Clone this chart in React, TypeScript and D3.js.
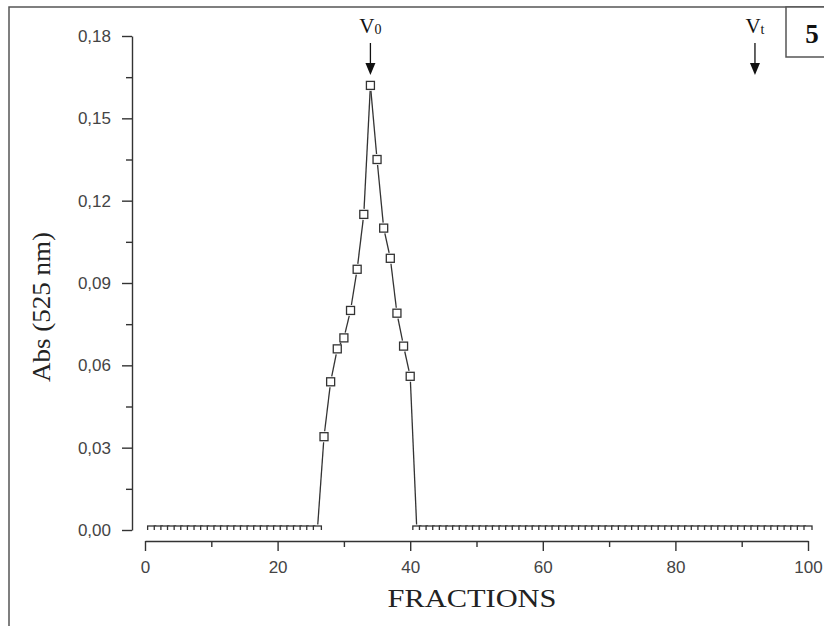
import React, { useEffect, useRef } from 'react';
import * as d3 from 'd3';

// absorbance at 525 nm for fractions 1..100
const absorbance = [
  0, 0, 0, 0, 0, 0, 0, 0, 0, 0,
  0, 0, 0, 0, 0, 0, 0, 0, 0, 0,
  0, 0, 0, 0, 0, 0,
  0.034, 0.054, 0.066, 0.070, 0.080, 0.095, 0.115, 0.162, 0.135, 0.110, 0.099, 0.079, 0.067, 0.056,
  0, 0, 0, 0, 0, 0, 0, 0, 0, 0,
  0, 0, 0, 0, 0, 0, 0, 0, 0, 0,
  0, 0, 0, 0, 0, 0, 0, 0, 0, 0,
  0, 0, 0, 0, 0, 0, 0, 0, 0, 0,
  0, 0, 0, 0, 0, 0, 0, 0, 0, 0,
  0, 0, 0, 0, 0, 0, 0, 0, 0, 0,
];
const yTicks = [0, 0.03, 0.06, 0.09, 0.12, 0.15, 0.18];
const yMinorTicks = [0.015, 0.045, 0.075, 0.105, 0.135, 0.165];
const xTicks = [0, 20, 40, 60, 80, 100];
const xMinorTicks = [10, 30, 50, 70, 90];
const volumeMarks = [
  { name: 'V', sub: '0', fraction: 34 },
  { name: 'V', sub: 't', fraction: 92 },
];

const INK = '#333';

const draw = (node: SVGSVGElement) => {
  const svg = d3.select(node);
  svg.selectAll('*').remove();

  const x = d3.scaleLinear().domain([0, 100]).range([145, 808]);
  const y = d3.scaleLinear().domain([0, 0.18]).range([530, 36]);
  const fmt = (d: number) => d.toFixed(2).replace('.', ',');

  // outer frame
  svg.append('rect').attr('x', 9).attr('y', 7).attr('width', 840).attr('height', 640)
    .attr('fill', 'none').attr('stroke', '#555').attr('stroke-width', 1.5);

  // panel number box
  svg.append('rect').attr('x', 786).attr('y', 7).attr('width', 60).attr('height', 50)
    .attr('fill', 'white').attr('stroke', '#555').attr('stroke-width', 1.5);
  svg.append('text').attr('x', 812).attr('y', 43).attr('text-anchor', 'middle')
    .attr('font-family', 'Liberation Serif').attr('font-weight', 'bold').attr('font-size', 27)
    .attr('fill', '#111').text('5');

  // y axis
  const yAxis = svg.append('g').attr('transform', 'translate(132,0)')
    .call(d3.axisLeft(y).tickValues(yTicks).tickFormat(fmt as any).tickSize(10).tickSizeOuter(0).tickPadding(11));
  svg.append('g').attr('transform', 'translate(132,0)')
    .call(d3.axisLeft(y).tickValues(yMinorTicks).tickFormat(() => '').tickSize(6).tickSizeOuter(0))
    .select('.domain').remove();

  // x axis, offset below the baseline
  const xAxis = svg.append('g').attr('transform', 'translate(0,541)')
    .call(d3.axisBottom(x).tickValues(xTicks).tickFormat(d3.format('d') as any).tickSize(10).tickSizeOuter(0).tickPadding(10));
  svg.append('g').attr('transform', 'translate(0,541)')
    .call(d3.axisBottom(x).tickValues(xMinorTicks).tickFormat(() => '').tickSize(6).tickSizeOuter(0))
    .select('.domain').remove();

  svg.selectAll('.domain, .tick line').attr('stroke', INK).attr('stroke-width', 1.4);
  [yAxis, xAxis].forEach(g => g.selectAll('text')
    .attr('font-family', 'Liberation Sans').attr('font-size', 17).attr('fill', '#444'));

  // axis titles
  svg.append('text').attr('transform', 'translate(50,307) rotate(-90)')
    .attr('text-anchor', 'middle').attr('font-family', 'Liberation Serif').attr('font-size', 26)
    .attr('fill', '#222').attr('textLength', 150).attr('lengthAdjust', 'spacingAndGlyphs')
    .text('Abs (525 nm)');
  svg.append('text').attr('x', 472).attr('y', 607)
    .attr('text-anchor', 'middle').attr('font-family', 'Liberation Serif').attr('font-size', 26)
    .attr('fill', '#222').attr('textLength', 169).attr('lengthAdjust', 'spacingAndGlyphs')
    .text('FRACTIONS');

  // plot area clip (markers at zero are cut at the baseline)
  svg.append('clipPath').attr('id', 'plot-clip')
    .append('rect').attr('x', 132).attr('y', 20).attr('width', 690).attr('height', 510);
  const plot = svg.append('g').attr('clip-path', 'url(#plot-clip)');

  const pts = absorbance.map((v, i) => ({ px: x(i + 1), py: y(v) }));
  const gap = 5.5;
  pts.slice(1).forEach((p, i) => {
    const a = pts[i];
    const dx = p.px - a.px, dy = p.py - a.py;
    const len = Math.hypot(dx, dy);
    if (len <= gap * 2 + 1) return;
    const ux = dx / len, uy = dy / len;
    plot.append('line')
      .attr('x1', a.px + ux * gap).attr('y1', a.py + uy * gap)
      .attr('x2', p.px - ux * gap).attr('y2', p.py - uy * gap)
      .attr('stroke', INK).attr('stroke-width', 1.3);
  });

  const size = 8;
  plot.selectAll('rect.pt').data(pts).join('rect').attr('class', 'pt')
    .attr('x', d => d.px - size / 2).attr('y', d => d.py - size / 2)
    .attr('width', size).attr('height', size)
    .attr('fill', 'white').attr('stroke', INK).attr('stroke-width', 1.3);

  // V0 / Vt arrows
  volumeMarks.forEach(m => {
    const cx = x(m.fraction);
    const g = svg.append('g');
    const t = g.append('text').attr('x', cx).attr('y', 33).attr('text-anchor', 'middle')
      .attr('font-family', 'Liberation Serif').attr('font-size', 21).attr('fill', '#111');
    t.append('tspan').text(m.name);
    t.append('tspan').attr('font-size', 14).attr('dy', 1).text(m.sub);
    g.append('line').attr('x1', cx).attr('x2', cx).attr('y1', 43).attr('y2', 65)
      .attr('stroke', '#111').attr('stroke-width', 1.3);
    g.append('path').attr('d', `M${cx - 5},63 L${cx + 5},63 L${cx},75 Z`).attr('fill', '#111');
  });
};

export default function App() {
  const ref = useRef<SVGSVGElement>(null);
  useEffect(() => {
    if (ref.current) draw(ref.current);
  }, []);
  return (
    <svg ref={ref} width={824} height={626}
      style={{ position: 'absolute', left: 0, top: 0, background: 'white' }} />
  );
}
